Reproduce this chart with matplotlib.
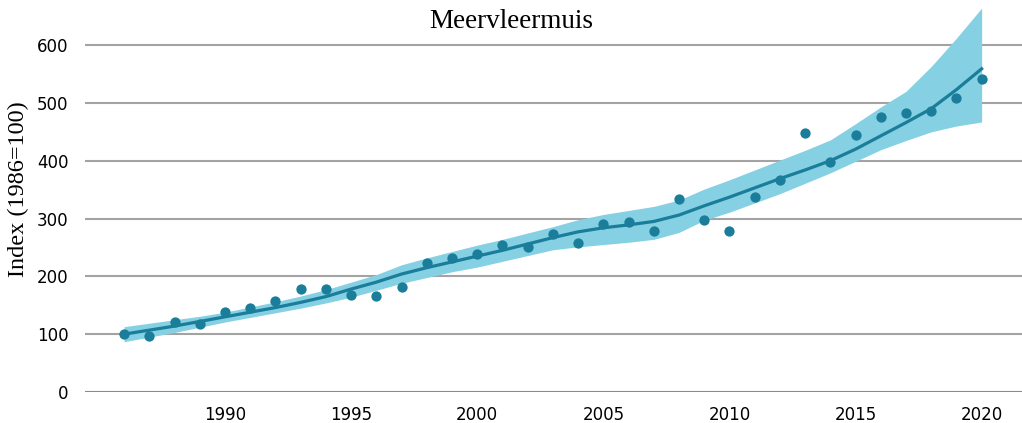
import matplotlib.pyplot as plt
import numpy as np

years = np.arange(1986, 2021)

# yearly index values
index = [100, 97, 121, 118, 139, 146, 157, 178, 178, 168,
         166, 182, 223, 232, 239, 254, 251, 273, 258, 291,
         294, 279, 334, 298, 278, 337, 367, 448, 398, 445,
         476, 483, 486, 509, 542]

# smoothed trend and its confidence band
trend = [100, 107, 114, 122, 130, 138, 146, 155, 165, 178,
         190, 204, 215, 225, 235, 245, 256, 267, 277, 284,
         289, 295, 306, 322, 337, 353, 369, 384, 400, 420,
         443, 466, 490, 523, 559]
upper = [113, 119, 125, 131, 138, 147, 156, 166, 177, 190,
         203, 220, 232, 243, 254, 264, 275, 286, 298, 307,
         314, 321, 332, 351, 367, 384, 401, 418, 436, 464,
         493, 520, 563, 612, 664]
lower = [87, 95, 103, 112, 121, 129, 137, 145, 154, 164,
         176, 188, 198, 208, 216, 226, 236, 246, 251, 255,
         259, 264, 276, 297, 311, 327, 343, 361, 379, 399,
         419, 435, 450, 460, 467]

dark = '#1a7d99'
light = '#86d0e3'

fig = plt.figure(figsize=(10.22, 4.23), dpi=100)
ax = fig.add_axes([85 / 1022, 31 / 423, 1 - 85 / 1022, 392 / 423])

for y in range(100, 700, 100):
    ax.axhline(y, color='#a3a3a3', lw=1.5, zorder=0)
ax.axhline(0, color='#8a8a8a', lw=1.5, zorder=0)

ax.fill_between(years, lower, upper, color=light, lw=0, zorder=1)
ax.plot(years, trend, color=dark, lw=2.3, zorder=2)
ax.scatter(years, index, s=55, color=dark, zorder=3, linewidths=0)

ax.set_xlim(1984.45, 2021.6)
ax.set_ylim(0, 678)
ax.set_yticks(range(0, 700, 100))
ax.set_xticks(range(1990, 2021, 5))
ax.tick_params(length=0, labelsize=12)
ax.tick_params(axis='x', pad=10)
ax.tick_params(axis='y', pad=12)
for s in ax.spines.values():
    s.set_visible(False)

fig.text(511 / 1022, (423 - 21) / 423, 'Meervleermuis', ha='center', va='center',
         family='Liberation Serif', fontsize=19.5)
fig.text(18 / 1022, (423 - 189) / 423, 'Index (1986=100)', rotation=90,
         ha='center', va='center', family='Liberation Serif', fontsize=17.5)

fig.savefig('out.png', dpi=100)
